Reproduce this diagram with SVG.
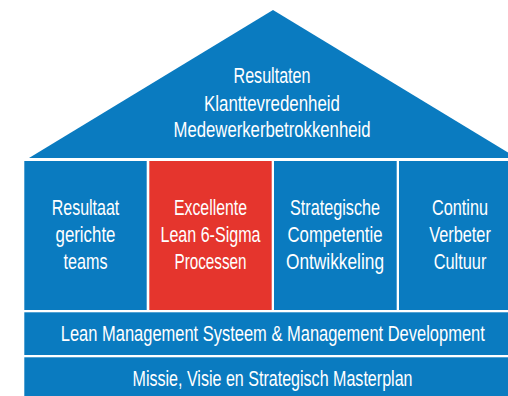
<svg xmlns="http://www.w3.org/2000/svg" width="508" height="396" viewBox="0 0 508 396">
<style>
.b{fill:#0a7bc0}
.r{fill:#e5352d}
text{font-family:"Liberation Sans",Arial,sans-serif;font-size:21.5px;fill:#fff;text-anchor:middle}
</style>
<rect width="508" height="396" fill="#fff"/>
<g id="roof">
<polygon class="b" points="29,158 273,10 508,152.5 508,158"/>
<text x="272" y="83.3" textLength="77" lengthAdjust="spacingAndGlyphs">Resultaten</text>
<text x="272" y="110.7" textLength="136" lengthAdjust="spacingAndGlyphs">Klanttevredenheid</text>
<text x="272" y="137.3" textLength="197" lengthAdjust="spacingAndGlyphs">Medewerkerbetrokkenheid</text>
</g>
<g id="pillar1">
<rect class="b" x="24.3" y="161" width="122.4" height="149"/>
<text x="85.5" y="215" textLength="67.6" lengthAdjust="spacingAndGlyphs">Resultaat</text>
<text x="85.5" y="241.7" textLength="60" lengthAdjust="spacingAndGlyphs">gerichte</text>
<text x="85.5" y="269.3" textLength="44" lengthAdjust="spacingAndGlyphs">teams</text>
</g>
<g id="pillar2">
<rect class="r" x="149.3" y="161" width="122.4" height="149"/>
<text x="210.5" y="215" textLength="73" lengthAdjust="spacingAndGlyphs">Excellente</text>
<text x="210.5" y="241.7" textLength="100" lengthAdjust="spacingAndGlyphs">Lean 6-Sigma</text>
<text x="210.5" y="269.3" textLength="72" lengthAdjust="spacingAndGlyphs">Processen</text>
</g>
<g id="pillar3">
<rect class="b" x="274" y="161" width="122.7" height="149"/>
<text x="335" y="215" textLength="90" lengthAdjust="spacingAndGlyphs">Strategische</text>
<text x="335" y="241.7" textLength="95" lengthAdjust="spacingAndGlyphs">Competentie</text>
<text x="335" y="269.3" textLength="98" lengthAdjust="spacingAndGlyphs">Ontwikkeling</text>
</g>
<g id="pillar4">
<rect class="b" x="399" y="161" width="109" height="149"/>
<text x="460" y="215" textLength="56" lengthAdjust="spacingAndGlyphs">Continu</text>
<text x="460" y="241.7" textLength="61.7" lengthAdjust="spacingAndGlyphs">Verbeter</text>
<text x="460" y="269.3" textLength="52.7" lengthAdjust="spacingAndGlyphs">Cultuur</text>
</g>
<g id="lean">
<rect class="b" x="24.3" y="312.3" width="483.7" height="42.7"/>
<text x="272.8" y="340.7" textLength="424" lengthAdjust="spacingAndGlyphs">Lean Management Systeem &amp; Management Development</text>
</g>
<g id="missie">
<rect class="b" x="24.3" y="357.3" width="483.7" height="38.7"/>
<text x="272.5" y="386" textLength="280" lengthAdjust="spacingAndGlyphs">Missie, Visie en Strategisch Masterplan</text>
</g>
<g id="connectors"/>
</svg>
